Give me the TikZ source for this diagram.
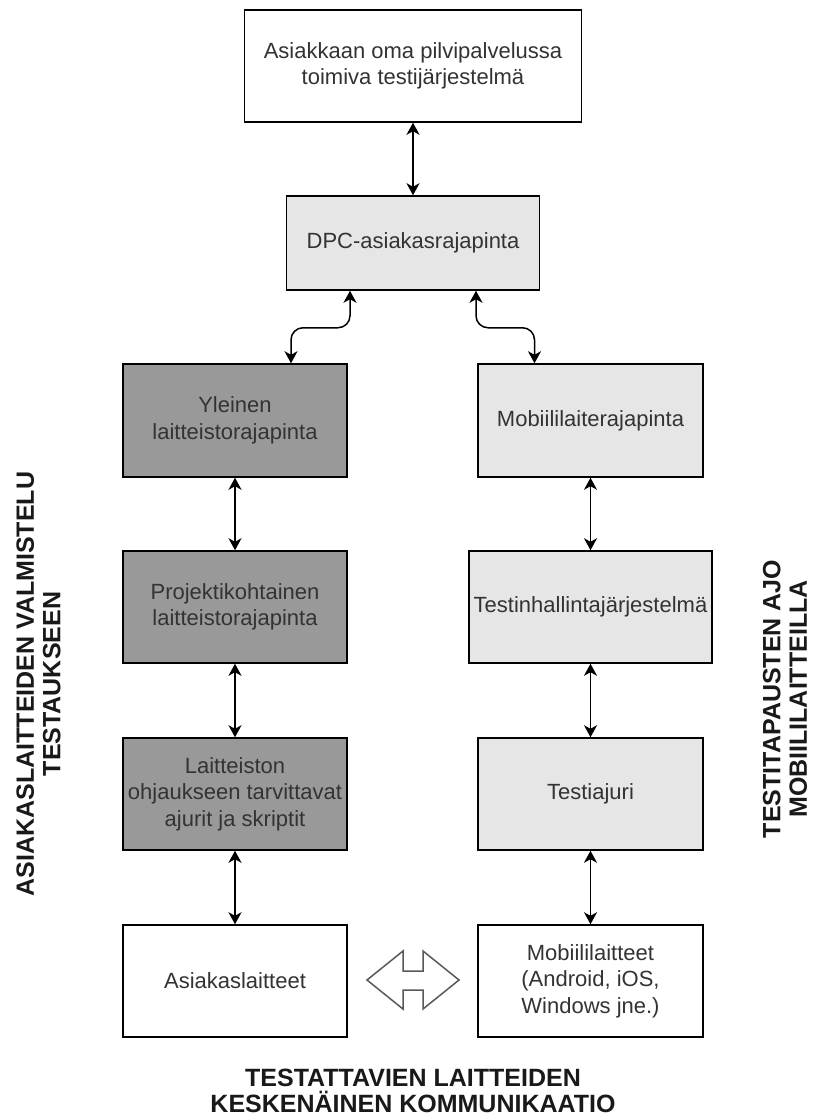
\documentclass[tikz,border=0pt]{standalone}
\usepackage{fontspec}
\setmainfont{Liberation Sans}
\usetikzlibrary{arrows.meta,calc}
\definecolor{darkfill}{HTML}{999999}
\definecolor{lightfill}{HTML}{E6E6E6}
\definecolor{boxtext}{HTML}{333333}
\begin{document}
\begin{tikzpicture}[x=1pt,y=-1pt,
  box/.style={draw=black, line width=1.5pt, rectangle, inner sep=0pt, align=center,
    text=boxtext, font=\fontsize{22}{26.5}\selectfont},
  whitebox/.style={box, fill=white},
  darkbox/.style={box, fill=darkfill},
  lightbox/.style={box, fill=lightfill},
  conn/.style={line width=1.5pt, draw=black,
    {Stealth[length=12pt,width=13pt,inset=3.5pt]}-{Stealth[length=12pt,width=13pt,inset=3.5pt]}},
  biglabel/.style={align=center, text=black!90, inner sep=0pt,
    font=\fontsize{25}{26.5}\selectfont\bfseries}
]
\useasboundingbox (0,0) rectangle (813,1119);
\fill[white] (0,0) rectangle (813,1119);

% boxes
\node[whitebox, minimum width=337pt, minimum height=112pt] (top) at (413,66)
  {Asiakkaan oma pilvipalvelussa\\toimiva testijärjestelmä};
\node[lightbox, minimum width=253pt, minimum height=94pt] (dpc) at (413,243)
  {DPC-asiakasrajapinta};

\node[darkbox, minimum width=224pt, minimum height=113pt] (yl) at (235,420.5)
  {Yleinen\\laitteistorajapinta};
\node[lightbox, minimum width=225pt, minimum height=113pt] (mob) at (590.5,420.5)
  {Mobiililaiterajapinta};

\node[darkbox, minimum width=224pt, minimum height=112pt] (proj) at (235,607)
  {Projektikohtainen\\laitteistorajapinta};
\node[lightbox, minimum width=243pt, minimum height=112pt] (thj) at (590.5,607)
  {Testinhallintajärjestelmä};

\node[darkbox, minimum width=224pt, minimum height=112pt] (lait) at (235,794)
  {Laitteiston\\ohjaukseen tarvittavat\\ajurit ja skriptit};
\node[lightbox, minimum width=225pt, minimum height=112pt] (taj) at (590.5,794)
  {Testiajuri};

\node[whitebox, minimum width=224pt, minimum height=112pt] (asl) at (235,981)
  {Asiakaslaitteet};
\node[whitebox, minimum width=225pt, minimum height=112pt] (mobl) at (590.5,981)
  {Mobiililaitteet\\(Android, iOS,\\Windows jne.)};

% connectors
\draw[conn] (top) -- (dpc);
\draw[conn, rounded corners=12pt] ([xshift=-63pt]dpc.south) -- ++(0,37) -| ([xshift=56pt]yl.north);
\draw[conn, rounded corners=12pt] ([xshift=63pt]dpc.south) -- ++(0,37) -| ([xshift=-56pt]mob.north);
\draw[conn] (yl) -- (proj);
\draw[conn] (proj) -- (lait);
\draw[conn] (lait) -- (asl);
\draw[conn] (mob) -- (thj);
\draw[conn] (thj) -- (taj);
\draw[conn] (taj) -- (mobl);

% double arrow between devices
\draw[draw=black!65, line width=1.5pt, fill=white, line join=miter]
  (367,980) -- (403,951) -- (403,971) -- (423,971) -- (423,951) -- (459,980)
  -- (423,1009) -- (423,990) -- (403,990) -- (403,1009) -- cycle;

% side and bottom labels
\node[biglabel, rotate=90] (leftlab) at (38.5,684)
  {ASIAKASLAITTEIDEN VALMISTELU\\TESTAUKSEEN};
\node[biglabel, rotate=90] (rightlab) at (785,699)
  {TESTITAPAUSTEN AJO\\MOBIILILAITTEILLA};
\node[biglabel] (botlab) at (413,1091)
  {TESTATTAVIEN LAITTEIDEN\\KESKENÄINEN KOMMUNIKAATIO};
\end{tikzpicture}
\end{document}
